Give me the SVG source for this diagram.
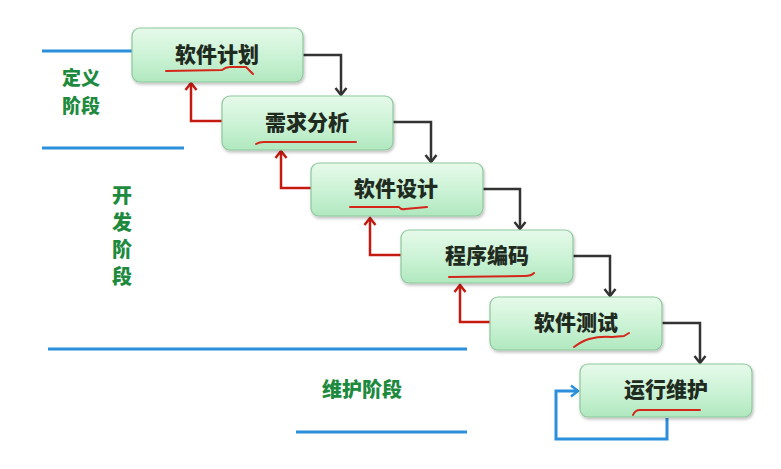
<svg xmlns="http://www.w3.org/2000/svg" width="781" height="469" viewBox="0 0 781 469">
<defs>
<linearGradient id="g" x1="0" y1="0" x2="0" y2="1">
<stop offset="0" stop-color="#e6faea"/>
<stop offset="0.55" stop-color="#caf2d4"/>
<stop offset="1" stop-color="#b0e8bf"/>
</linearGradient>
<filter id="sh" x="-10%" y="-10%" width="120%" height="130%">
<feDropShadow dx="1" dy="2" stdDeviation="1.5" flood-color="#000" flood-opacity="0.25"/>
</filter>
<marker id="ak" markerUnits="userSpaceOnUse" markerWidth="14" markerHeight="14" refX="11" refY="7" orient="auto">
<path d="M4,1.5 L11,7 L4,12.5" fill="none" stroke="#333" stroke-width="2.5"/>
</marker>
<marker id="ar" markerUnits="userSpaceOnUse" markerWidth="14" markerHeight="14" refX="11" refY="7" orient="auto">
<path d="M4,1.5 L11,7 L4,12.5" fill="none" stroke="#c41a10" stroke-width="2.5"/>
</marker>
<marker id="ab" markerUnits="userSpaceOnUse" markerWidth="14" markerHeight="14" refX="11" refY="7" orient="auto">
<path d="M4,1.5 L11,7 L4,12.5" fill="none" stroke="#2b8fdc" stroke-width="2.5"/>
</marker>
</defs>
<style>
.box{fill:url(#g);stroke:#8ec79c;stroke-width:1.2;filter:url(#sh)}
.t{font-family:"Noto Sans CJK SC","Noto Sans",sans-serif;font-weight:900;font-size:21px;fill:#1f2b1f;text-anchor:middle}
.lab{font-family:"Noto Sans CJK SC","Noto Sans",sans-serif;font-weight:900;font-size:20px;fill:#1d8a3e;text-anchor:middle}
.ul{fill:none;stroke:#d4261a;stroke-width:2;stroke-linecap:round;stroke-linejoin:round}
.bl{stroke:#2b8fdc;stroke-width:3}
.ck{fill:none;stroke:#333;stroke-width:2.5}
.cr{fill:none;stroke:#c41a10;stroke-width:2.5}
.cb{fill:none;stroke:#2b8fdc;stroke-width:3}
</style>
<rect width="781" height="469" fill="#fff"/>
<g id="phase-lines">
<line class="bl" x1="42" y1="51" x2="133" y2="51"/>
<line class="bl" x1="42" y1="148" x2="184" y2="148"/>
<line class="bl" x1="48" y1="349" x2="467" y2="349"/>
<line class="bl" x1="296" y1="432" x2="467" y2="432"/>
</g>
<g id="labels">
<text class="lab" style="font-size:19px"><tspan x="81" y="85">定义</tspan><tspan x="81" y="113">阶段</tspan></text>
<text class="lab" x="122" y="185" style="writing-mode:vertical-rl;text-anchor:start;letter-spacing:7px">开发阶段</text>
<text class="lab" x="362" y="397">维护阶段</text>
</g>
<g id="connectors">
<path class="ck" d="M303,55 H341 V95" marker-end="url(#ak)"/>
<path class="ck" d="M393,122 H431 V162" marker-end="url(#ak)"/>
<path class="ck" d="M482,189 H520 V229" marker-end="url(#ak)"/>
<path class="ck" d="M572,256 H610 V296" marker-end="url(#ak)"/>
<path class="ck" d="M661,323 H700 V363" marker-end="url(#ak)"/>
<path class="cr" d="M222,121 H191 V83" marker-end="url(#ar)"/>
<path class="cr" d="M311,188 H281 V151" marker-end="url(#ar)"/>
<path class="cr" d="M401,255 H370 V218" marker-end="url(#ar)"/>
<path class="cr" d="M490,322 H460 V285" marker-end="url(#ar)"/>
<path class="cb" d="M667,418 V439 H556 V391 H578" marker-end="url(#ab)"/>
</g>
<g id="n1">
<rect class="box" x="132" y="28" width="171" height="54" rx="8"/>
<text class="t" x="217" y="62">软件计划</text>
<path class="ul" d="M166,71 L222,70 Q226,67 230,67 L246,67 L253,74"/>
</g>
<g id="n2">
<rect class="box" x="222" y="96" width="171" height="54" rx="8"/>
<text class="t" x="307" y="130">需求分析</text>
<path class="ul" d="M256,144 Q259,142 264,142 L356,142"/>
</g>
<g id="n3">
<rect class="box" x="311" y="163" width="172" height="53" rx="8"/>
<text class="t" x="396" y="196">软件设计</text>
<path class="ul" d="M350,207 L399,207 Q401,210 405,209 L427,207"/>
</g>
<g id="n4">
<rect class="box" x="401" y="230" width="172" height="53" rx="8"/>
<text class="t" x="487" y="263">程序编码</text>
<path class="ul" d="M449,277 L525,276 Q531,276 534,273"/>
</g>
<g id="n5">
<rect class="box" x="490" y="297" width="172" height="53" rx="8"/>
<text class="t" x="576" y="330">软件测试</text>
<path class="ul" d="M574,347 Q582,341 589,339 Q600,336 612,337 L624,336 L629,333"/>
</g>
<g id="n6">
<rect class="box" x="580" y="364" width="172" height="53" rx="8"/>
<text class="t" x="666" y="397">运行维护</text>
<path class="ul" d="M633,415 Q635,410 640,410 L700,410"/>
</g>
</svg>
